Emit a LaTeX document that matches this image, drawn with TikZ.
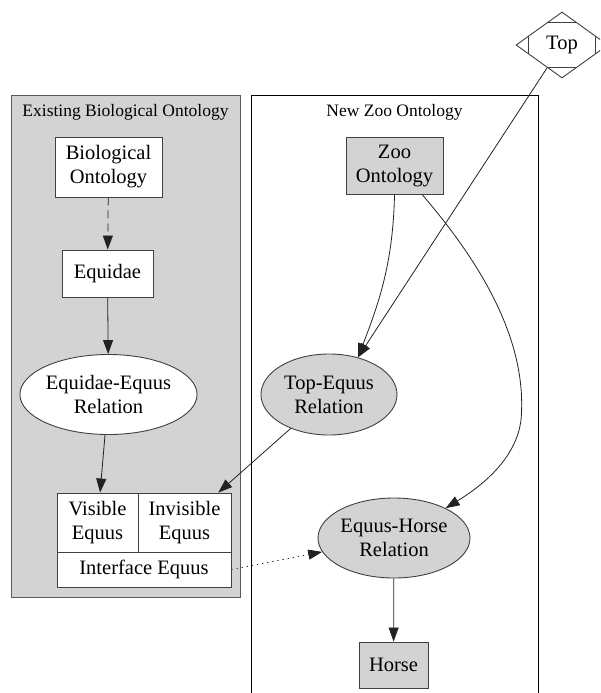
\documentclass[tikz,border=0pt]{standalone}
\usepackage{fontspec}
\setmainfont{Liberation Serif}
\usetikzlibrary{arrows.meta,shapes.geometric,calc}

\definecolor{panel}{RGB}{211,211,211}
\definecolor{nodeline}{RGB}{64,64,64}
\definecolor{edgeline}{RGB}{34,34,34}
\definecolor{panelline}{RGB}{90,90,90}

\tikzset{
  lbl/.style={font=\fontsize{20.5}{24}\selectfont, align=center, inner sep=0pt},
  clusterlabel/.style={font=\fontsize{17.5}{21}\selectfont, inner sep=0pt},
  box/.style={lbl, draw=nodeline, line width=0.9pt, rectangle},
  oval/.style={lbl, draw=nodeline, line width=0.9pt, ellipse},
  whitefill/.style={fill=white},
  grayfill/.style={fill=panel},
  edge/.style={draw=edgeline, line width=0.8pt, -{Triangle[length=14pt,width=10pt]}},
  dashedge/.style={edge, dash pattern=on 8pt off 5pt},
  dotedge/.style={edge, dash pattern=on 1.2pt off 4pt},
}

\begin{document}
\begin{tikzpicture}[x=1pt,y=-1pt]
  \useasboundingbox (0,0) rectangle (600,693);
  \clip (0,0) rectangle (600,693);

  % cluster frames
  \draw[fill=panel, draw=panelline, line width=0.9pt] (11,95) rectangle (240,597);
  \draw[draw=black, line width=0.9pt] (251,95) rectangle (538,710);
  \node[clusterlabel] (labold) at (125.5,112) {Existing Biological Ontology};
  \node[clusterlabel] (labnew) at (394.5,112) {New Zoo Ontology};

  % existing biological ontology
  \node[box, whitefill, minimum width=107, minimum height=60] (bio) at (108.5,167) {Biological\\Ontology};
  \node[box, whitefill, minimum width=91, minimum height=47] (equidae) at (107.5,273.5) {Equidae};
  \node[oval, whitefill, minimum width=171, minimum height=80] (eer) at (108.5,394.5) {Equidae-Equus\\Relation};

  % record: visible / invisible / interface
  \node[box, whitefill, minimum width=81, minimum height=59] (vis) at (97.5,522.5) {Visible\\Equus};
  \node[box, whitefill, minimum width=93, minimum height=59] (invis) at (184.5,522.5) {Invisible\\Equus};
  \node[box, whitefill, minimum width=174, minimum height=35] (iface) at (144,569.5) {Interface Equus};

  % new zoo ontology
  \node[box, grayfill, minimum width=97, minimum height=57] (zoo) at (394.5,166) {Zoo\\Ontology};
  \node[oval, grayfill, minimum width=136, minimum height=81] (tre) at (329,394.5) {Top-Equus\\Relation};
  \node[oval, grayfill, minimum width=152, minimum height=80] (ehr) at (394,538) {Equus-Horse\\Relation};
  \node[box, grayfill, minimum width=69, minimum height=46] (horse) at (393.5,665) {Horse};

  % top concept (diamond with cut corners)
  \node[lbl, diamond, draw=nodeline, line width=0.9pt, fill=white,
        minimum width=92, minimum height=66] (top) at (562,45) {Top};
  \draw[draw=nodeline, line width=0.9pt]
    ($(top.north)!0.33!(top.west)$) -- ($(top.north)!0.33!(top.east)$)
    ($(top.south)!0.33!(top.west)$) -- ($(top.south)!0.33!(top.east)$)
    ($(top.west)!0.28!(top.north)$) -- ($(top.west)!0.28!(top.south)$)
    ($(top.east)!0.28!(top.north)$) -- ($(top.east)!0.28!(top.south)$);

  % connectors
  \draw[dashedge] (bio) -- (equidae);
  \draw[edge] (equidae) -- (eer);
  \draw[edge] (eer) -- (vis);
  \draw[edge] (tre) -- (invis);
  \draw[dotedge] (iface.east) -- (ehr);
  \draw[edge] (ehr) -- (horse);
  \draw[edge] (top) -- (tre.52);
  \draw[edge] (zoo.south) .. controls (393,265) and (378,305) .. (tre.52);
  \draw[edge] (zoo.-46) .. controls (480,262) and (528,340) .. (521,420)
                        .. controls (516,460) and (480,487) .. (ehr.30);
\end{tikzpicture}
\end{document}
